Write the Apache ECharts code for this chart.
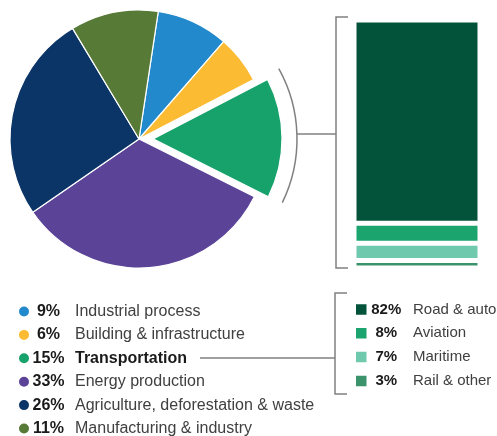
<!DOCTYPE html>
<html>
<head>
<meta charset="utf-8">
<script src="https://cdn.jsdelivr.net/npm/echarts@6/dist/echarts.min.js"></script>
<style>
html,body{margin:0;padding:0;background:#fff;}
#main{width:497px;height:436px;}
</style>
</head>
<body>
<div id="main"></div>
<script>
// ---- data ----
var sectorNames = ['Industrial process', 'Building & infrastructure', 'Transportation', 'Energy production', 'Agriculture, deforestation & waste', 'Manufacturing & industry'];
var sectorValues = [9, 6, 15, 33, 26, 11];
var sectorColors = ['#2389cd', '#fbbb33', '#17a26b', '#5b4398', '#0b3467', '#577a37'];

var transportNames = ['Road & auto', 'Aviation', 'Maritime', 'Rail & other'];
var transportValues = [82, 8, 7, 3];
var transportColors = ['#02533a', '#1ba46e', '#6fc9ad', '#3b936c'];

var FONT = 'Liberation Sans, Arial, sans-serif';

var pieData = sectorNames.map(function (n, i) {
  return {
    name: n,
    value: sectorValues[i],
    selected: n === 'Transportation',
    itemStyle: { color: sectorColors[i] }
  };
});

var barSeries = transportNames.map(function (n, i) {
  return {
    type: 'bar',
    name: n,
    stack: 'transport',
    data: [transportValues[i]],
    barWidth: '100%',
    itemStyle: { color: transportColors[i], borderColor: '#fff', borderWidth: 2.5 },
    silent: true
  };
});

function pctOf(list, vals, name) {
  return vals[list.indexOf(name)] + '%';
}

var chart = echarts.init(document.getElementById('main'), null, { renderer: 'canvas' });
var lineStyle = { stroke: '#808080', lineWidth: 1.5 };

chart.setOption({
  animation: false,
  backgroundColor: '#fff',
  grid: { left: 354, width: 126, top: 20, bottom: 168 },
  xAxis: { type: 'category', data: ['Transportation'], show: false },
  yAxis: { type: 'value', min: 0, max: 100, inverse: true, show: false },
  legend: [
    {
      data: sectorNames,
      orient: 'vertical',
      left: 17,
      top: 302.5,
      height: 140,
      padding: 0,
      icon: 'circle',
      itemWidth: 12,
      itemHeight: 12,
      itemGap: 5.4,
      selectedMode: false,
      textStyle: {
        fontFamily: FONT, fontSize: 16, lineHeight: 18,
        rich: {
          p: { fontFamily: FONT, fontSize: 16, fontWeight: 'bold', color: '#1a1a1a', width: 27, align: 'right' },
          n: { fontFamily: FONT, fontSize: 16, color: '#404040', padding: [0, 0, 0, 13] },
          t: { fontFamily: FONT, fontSize: 16, fontWeight: 'bold', color: '#1a1a1a', padding: [0, 0, 0, 13] }
        }
      },
      formatter: function (name) {
        var tag = name === 'Transportation' ? 't' : 'n';
        return '{p|' + pctOf(sectorNames, sectorValues, name) + '}{' + tag + '|' + name + '}';
      }
    },
    {
      data: transportNames,
      orient: 'vertical',
      left: 354,
      top: 300.5,
      height: 120,
      padding: 0,
      icon: 'rect',
      itemWidth: 12.5,
      itemHeight: 12.5,
      itemGap: 5.8,
      selectedMode: false,
      textStyle: {
        fontFamily: FONT, fontSize: 15, lineHeight: 18,
        rich: {
          p: { fontFamily: FONT, fontSize: 15, fontWeight: 'bold', color: '#1a1a1a', width: 27.5, align: 'right' },
          n: { fontFamily: FONT, fontSize: 15, color: '#404040', padding: [0, 0, 0, 13] }
        }
      },
      formatter: function (name) {
        return '{p|' + pctOf(transportNames, transportValues, name) + '}{n|' + name + '}';
      }
    }
  ],
  series: [
    {
      type: 'pie',
      center: [139, 139],
      radius: 129,
      startAngle: 81.4,
      clockwise: true,
      selectedMode: 'single',
      selectedOffset: 14,
      label: { show: false },
      labelLine: { show: false },
      itemStyle: { borderColor: '#fff', borderWidth: 1.2 },
      emphasis: { disabled: true },
      silent: true,
      data: pieData
    }
  ].concat(barSeries),
  graphic: [
    // arc bracket around the exploded slice
    { type: 'arc', shape: { cx: 152, cy: 139, r: 145, startAngle: -29 * Math.PI / 180, endAngle: 26 * Math.PI / 180 }, style: { stroke: '#808080', lineWidth: 1.5, fill: null }, silent: true },
    { type: 'line', shape: { x1: 297, y1: 134, x2: 336, y2: 134 }, style: lineStyle, silent: true },
    { type: 'polyline', shape: { points: [[348, 17], [336, 17], [336, 268], [348, 268]] }, style: { stroke: '#808080', lineWidth: 1.5, fill: null }, silent: true },
    // lower connector
    { type: 'line', shape: { x1: 200, y1: 358, x2: 335, y2: 358 }, style: lineStyle, silent: true },
    { type: 'polyline', shape: { points: [[347, 293], [335, 293], [335, 394], [347, 394]] }, style: { stroke: '#808080', lineWidth: 1.5, fill: null }, silent: true }
  ]
});
</script>
</body>
</html>
